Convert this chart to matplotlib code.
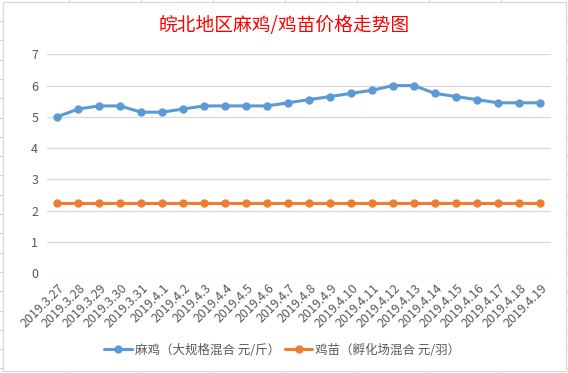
import matplotlib
matplotlib.use("Agg")
import matplotlib.pyplot as plt
import matplotlib.transforms as mtransforms
from matplotlib.lines import Line2D
from matplotlib.patches import Rectangle

plt.rcParams['font.family'] = ['Noto Sans CJK SC', 'DejaVu Sans']

dates = ["2019.3.27", "2019.3.28", "2019.3.29", "2019.3.30", "2019.3.31",
         "2019.4.1", "2019.4.2", "2019.4.3", "2019.4.4", "2019.4.5", "2019.4.6",
         "2019.4.7", "2019.4.8", "2019.4.9", "2019.4.10", "2019.4.11", "2019.4.12",
         "2019.4.13", "2019.4.14", "2019.4.15", "2019.4.16", "2019.4.17",
         "2019.4.18", "2019.4.19"]
maji = [5.0, 5.25, 5.35, 5.35, 5.15, 5.15, 5.25, 5.35, 5.35, 5.35, 5.35, 5.45,
        5.55, 5.65, 5.75, 5.85, 6.0, 6.0, 5.75, 5.65, 5.55, 5.45, 5.45, 5.45]
jimiao = [2.25] * 24
series_names = ["麻鸡（大规格混合 元/斤）", "鸡苗（孵化场混合 元/羽）"]
title = "皖北地区麻鸡/鸡苗价格走势图"
yticks = [0, 1, 2, 3, 4, 5, 6, 7]

W, H = 568, 373
fig = plt.figure(figsize=(W / 100, H / 100), dpi=100)

# spreadsheet grid behind the chart
grid_c = "#d4d4d4"
y = 21.0
while y < H:
    fig.add_artist(Line2D([0, 1], [1 - y / H, 1 - y / H], color=grid_c, lw=0.8,
                          zorder=0))
    y += 19.3
x = 68.5
while x < W:
    fig.add_artist(Line2D([x / W, x / W], [0, 1], color=grid_c, lw=0.8, zorder=0))
    x += 72.1
fig.add_artist(Rectangle((2.5 / W, 2.5 / H), (565.7 - 2.5) / W, (370.7 - 2.5) / H,
                         transform=fig.transFigure, facecolor="white",
                         edgecolor="#d9d9d9", lw=0.9, zorder=1))

ax = fig.add_axes([46.5 / W, (H - 273.3) / H, 504 / W, (273.3 - 54.3) / H])
ax.set_zorder(2)
ax.patch.set_alpha(0)
xs = list(range(len(dates)))
blue = "#5B9BD5"
orange = "#ED7D31"
ax.plot(xs, maji, color=blue, lw=2.2, marker="o", ms=5, label=series_names[0],
        solid_capstyle="round")
ax.plot(xs, jimiao, color=orange, lw=2.2, marker="o", ms=5, label=series_names[1],
        solid_capstyle="round")

ax.set_xlim(-0.5, len(dates) - 0.5)
ax.set_ylim(0, 7)
ax.set_yticks(yticks)
ax.yaxis.grid(True, color="#d9d9d9", lw=0.9)
ax.set_axisbelow(True)
for s in ax.spines.values():
    s.set_visible(False)
ax.tick_params(axis="both", length=0, colors="#595959", labelsize=9)
ax.tick_params(axis="y", pad=6)
ax.set_xticks(xs)
ax.set_xticklabels(dates, rotation=45, ha="right", va="center",
                   rotation_mode="anchor")
ax.tick_params(axis="x", pad=9)
off = mtransforms.ScaledTranslation(4 / 72, 0, fig.dpi_scale_trans)
for lab in ax.get_xticklabels():
    lab.set_transform(lab.get_transform() + off)

fig.text(0.5, 1 - 25 / H, title, color="#FF0000", fontsize=13.5,
         ha="center", va="center", zorder=3)

leg = fig.legend(loc="center", bbox_to_anchor=(0.497, 1 - 350 / H), ncol=2,
                 frameon=False, fontsize=9, handlelength=2.2, columnspacing=0.4,
                 handletextpad=0.25, labelcolor="#595959")
leg.set_zorder(3)

fig.savefig("out.png", dpi=100)
